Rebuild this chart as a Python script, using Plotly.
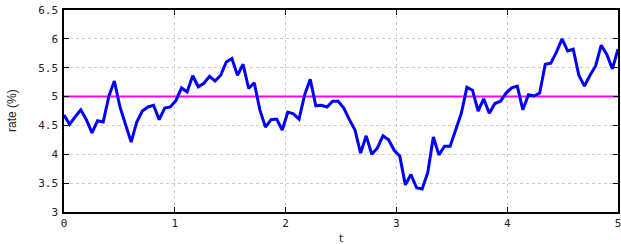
import numpy as np
import plotly.graph_objects as go

t = np.linspace(0, 5, 100)
rate = [4.68, 4.52, 4.65, 4.77, 4.60, 4.37, 4.58, 4.56, 5.00, 5.27,
        4.82, 4.50, 4.21, 4.56, 4.75, 4.82, 4.85, 4.60, 4.80, 4.82,
        4.93, 5.15, 5.08, 5.36, 5.17, 5.23, 5.35, 5.27, 5.37, 5.60,
        5.66, 5.37, 5.56, 5.14, 5.24, 4.77, 4.47, 4.60, 4.61, 4.42,
        4.73, 4.70, 4.61, 5.03, 5.30, 4.84, 4.85, 4.82, 4.92, 4.92,
        4.80, 4.60, 4.42, 4.02, 4.32, 4.00, 4.11, 4.32, 4.25, 4.07,
        3.97, 3.47, 3.65, 3.42, 3.40, 3.68, 4.30, 3.99, 4.14, 4.14,
        4.42, 4.71, 5.16, 5.11, 4.75, 4.96, 4.71, 4.88, 4.92, 5.06,
        5.15, 5.18, 4.77, 5.03, 5.01, 5.06, 5.56, 5.58, 5.77, 6.00,
        5.79, 5.82, 5.37, 5.18, 5.37, 5.53, 5.89, 5.73, 5.48, 5.82]
target = 5.0
x_ticks = [0, 1, 2, 3, 4, 5]
y_ticks = [3, 3.5, 4, 4.5, 5, 5.5, 6, 6.5]
y_ticklabels = ["3", "3.5", "4", "4.5", "5", "5.5", "6", "6.5"]

fig = go.Figure()
fig.add_trace(go.Scatter(x=[x_ticks[0], x_ticks[-1]], y=[target, target], mode="lines",
                         line=dict(color="#ff00ff", width=2), showlegend=False))
fig.add_trace(go.Scatter(x=t, y=rate, mode="lines",
                         line=dict(color="#0000ff", width=3), showlegend=False))

tickfont = dict(family="DejaVu Sans Mono", size=11, color="#222")
common = dict(ticks="inside", ticklen=5, tickcolor="black", mirror="allticks",
              showline=True, linecolor="black", linewidth=1.5,
              showgrid=True, gridcolor="#cccccc", griddash="dot", gridwidth=1,
              zeroline=False, tickfont=tickfont, automargin=False,
              ticklabeloverflow="allow")
fig.update_layout(
    width=621, height=244,
    margin=dict(l=64, r=3, t=10, b=32),
    paper_bgcolor="white", plot_bgcolor="white",
    xaxis=dict(range=[0, 5], tickvals=x_ticks, ticktext=[str(v) for v in x_ticks], **common),
    yaxis=dict(range=[3, 6.5], tickvals=y_ticks, ticktext=y_ticklabels, ticklabelstandoff=2, **common),
    annotations=[
        dict(text="t", xref="paper", yref="paper", x=0.5, y=0.0, yshift=-26,
             showarrow=False, yanchor="middle", xanchor="center",
             font=dict(family="DejaVu Sans", size=11, color="#222")),
        dict(text="rate (%)", xref="paper", yref="paper", x=0, xshift=-52, y=0.5,
             showarrow=False, textangle=-90, xanchor="center", yanchor="middle",
             font=dict(family="Liberation Sans Narrow, Liberation Sans", size=12, color="#222")),
    ],
)
fig.write_html("out.html", config={"displayModeBar": False},
               post_script="document.body.style.margin='0';document.body.style.padding='0';document.body.style.overflow='hidden';")
